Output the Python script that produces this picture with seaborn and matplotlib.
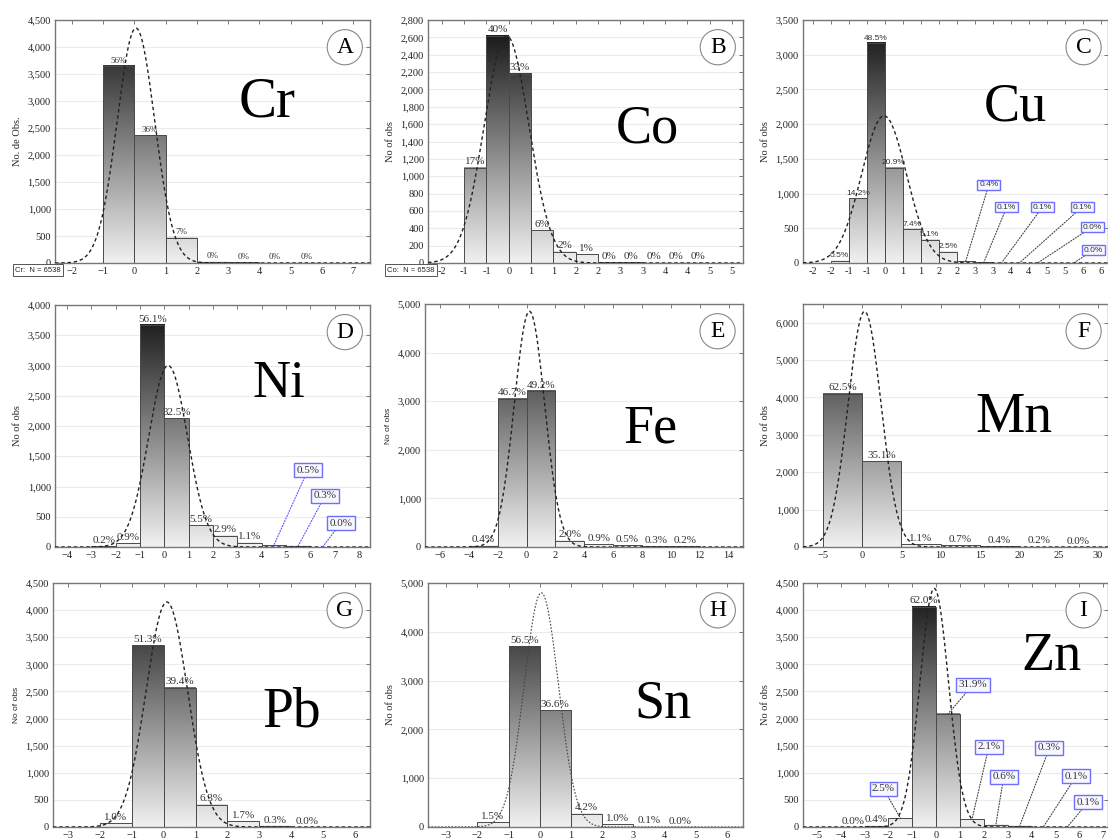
import numpy as np
import pandas as pd
import seaborn as sns
import matplotlib.pyplot as plt
from matplotlib.colors import LinearSegmentedColormap
from matplotlib.ticker import FuncFormatter, MultipleLocator

# --- datos: bordes de clase, conteos y etiquetas de cada elemento ---
cr_edges = [-1, 0, 1, 2, 3, 4, 5, 6]
cr_counts = [3650, 2370, 470, 25, 12, 6, 5]
cr_labels = ["56%", "36%", "7%", "0%", "0%", "0%", "0%"]
cr_fit = [0.05, 0.60, 4350]          # media, sigma, altura de la normal

co_edges = [-1.0, -0.5, 0.0, 0.5, 1.0, 1.5, 2.0, 2.5, 3.0, 3.5, 4.0, 4.5]
co_counts = [1100, 2620, 2180, 380, 130, 100, 8, 6, 4, 3, 2]
co_labels = ["17%", "40%", "33%", "6%", "2%", "1%", "0%", "0%", "0%", "0%", "0%"]
co_fit = [-0.05, 0.50, 2620]
co_ticks = [-1.5, -1.0, -0.5, 0.0, 0.5, 1.0, 1.5, 2.0, 2.5, 3.0, 3.5, 4.0, 4.5, 5.0]
co_ticklabels = ["-2", "-1", "-1", "0", "1", "1", "2", "2", "3", "3", "4", "4", "5", "5"]

cu_edges = [-1.5, -1.0, -0.5, 0.0, 0.5, 1.0, 1.5, 2.0, 2.5, 3.0, 3.5, 4.0, 4.5, 5.0, 5.5]
cu_counts = [33, 930, 3170, 1370, 490, 335, 165, 28, 8, 7, 6, 2, 0, 1]
cu_labels = ["0.5%", "14.2%", "48.5%", "20.9%", "7.4%", "5.1%", "2.5%",
             "0.4%", "0.1%", "0.1%", "0.1%", "0.0%", None, "0.0%"]
cu_fit = [-0.02, 0.62, 2120]
cu_ticks = [-2.0, -1.5, -1.0, -0.5, 0.0, 0.5, 1.0, 1.5, 2.0, 2.5, 3.0, 3.5, 4.0, 4.5, 5.0, 5.5, 6.0]
cu_ticklabels = ["-2", "-2", "-1", "-1", "0", "1", "1", "2", "2", "3", "3",
                 "4", "4", "5", "5", "6", "6"]

ni_edges = [-3, -2, -1, 0, 1, 2, 3, 4, 5, 6, 7]
ni_counts = [15, 60, 3670, 2130, 360, 190, 70, 33, 20, 2]
ni_labels = ["0.2%", "0.9%", "56.1%", "32.5%", "5.5%", "2.9%", "1.1%", "0.5%", "0.3%", "0.0%"]
ni_fit = [0.15, 0.80, 3000]

fe_edges = [-4, -2, 0, 2, 4, 6, 8, 10, 12]
fe_counts = [25, 3050, 3210, 130, 60, 33, 20, 13]
fe_labels = ["0.4%", "46.7%", "49.2%", "2.0%", "0.9%", "0.5%", "0.3%", "0.2%"]
fe_fit = [0.2, 1.05, 4850]

mn_edges = [-5, 0, 5, 10, 15, 20, 25, 30]
mn_counts = [4100, 2300, 70, 45, 25, 13, 2]
mn_labels = ["62.5%", "35.1%", "1.1%", "0.7%", "0.4%", "0.2%", "0.0%"]
mn_fit = [0.3, 2.1, 6300]

pb_edges = [-2, -1, 0, 1, 2, 3, 4, 5]
pb_counts = [65, 3350, 2570, 410, 110, 20, 2]
pb_labels = ["1.0%", "51.3%", "39.4%", "6.3%", "1.7%", "0.3%", "0.0%"]
pb_fit = [0.1, 0.65, 4150]

sn_edges = [-2, -1, 0, 1, 2, 3, 4, 5]
sn_counts = [100, 3700, 2390, 275, 60, 7, 1]
sn_labels = ["1.5%", "56.5%", "36.6%", "4.2%", "1.0%", "0.1%", "0.0%"]
sn_fit = [0.05, 0.55, 4800]

zn_edges = [-4, -3, -2, -1, 0, 1, 2, 3, 4, 5, 6]
zn_counts = [1, 25, 165, 4060, 2090, 140, 40, 20, 7, 5]
zn_labels = ["0.0%", "0.4%", "2.5%", "62.0%", "31.9%", "2.1%", "0.6%", "0.3%", "0.1%", "0.1%"]
zn_fit = [-0.08, 0.60, 4400]

W, H = 1108, 839
SERIF = ["Liberation Serif", "DejaVu Serif"]
SANS = ["Liberation Sans", "DejaVu Sans"]

sns.set_style("white")
plt.rcParams["font.family"] = SERIF

grad = LinearSegmentedColormap.from_list("g", ["#f0f0f0", "#0e0e0e"])

# caja en pixeles (izq, der, arriba, abajo), limites, estilo
panels = [
    dict(sym="Cr", tag="A", edges=cr_edges, counts=cr_counts, labels=cr_labels, fit=cr_fit,
         box=(55, 370, 20, 263), xlim=(-2.54, 7.54), ymax=4500, ystep=500, xstep=1,
         ylabel="No. de Obs.", sym_pos=(0.673, 0.601), sym_size=41, lab_size=6.5),
    dict(sym="Co", tag="B", edges=co_edges, counts=co_counts, labels=co_labels, fit=co_fit,
         box=(428, 743, 20, 263), xlim=(-1.81, 5.25), ymax=2800, ystep=200,
         ticks=co_ticks, ticklabels=co_ticklabels,
         ylabel="No of obs", sym_pos=(0.695, 0.494), sym_size=39, lab_size=8),
    dict(sym="Cu", tag="C", edges=cu_edges, counts=cu_counts, labels=cu_labels, fit=cu_fit,
         box=(803, 1108, 20, 263), xlim=(-2.27, 6.2), ymax=3500, ystep=500,
         ticks=cu_ticks, ticklabels=cu_ticklabels,
         ylabel="No of obs", sym_pos=(0.697, 0.588), sym_size=39, lab_size=6, lab_font=SANS,
         callout_size=6,
         callouts={7: (0.609, 0.321), 8: (0.668, 0.230), 9: (0.785, 0.230),
                   10: (0.915, 0.230), 11: (0.948, 0.148), 13: (0.952, 0.053)},
         lead="#444444"),
    dict(sym="Ni", tag="D", edges=ni_edges, counts=ni_counts, labels=ni_labels, fit=ni_fit,
         box=(55, 370, 305, 547), xlim=(-4.5, 8.45), ymax=4000, ystep=500, xstep=1,
         ylabel="No of obs", sym_pos=(0.711, 0.62), sym_size=38, lab_size=8,
         callout_size=8,
         callouts={7: (0.803, 0.318), 8: (0.857, 0.211), 9: (0.908, 0.099)},
         lead="#5555ff"),
    dict(sym="Fe", tag="E", edges=fe_edges, counts=fe_counts, labels=fe_labels, fit=fe_fit,
         box=(425, 743, 304, 547), xlim=(-7.04, 15.0), ymax=5000, ystep=1000, xstep=2,
         ylabel="No of obs", ylabel_font=SANS, sym_pos=(0.708, 0.432), sym_size=39, lab_size=8),
    dict(sym="Mn", tag="F", edges=mn_edges, counts=mn_counts, labels=mn_labels, fit=mn_fit,
         box=(803, 1108, 304, 547), xlim=(-7.54, 31.3), ymax=6500, ystep=1000, xstep=5,
         ylabel="No of obs", sym_pos=(0.69, 0.473), sym_size=40, lab_size=8),
    dict(sym="Pb", tag="G", edges=pb_edges, counts=pb_counts, labels=pb_labels, fit=pb_fit,
         box=(53, 370, 583, 827), xlim=(-3.47, 6.47), ymax=4500, ystep=500, xstep=1,
         ylabel="No of obs", ylabel_font=SANS, sym_pos=(0.754, 0.41), sym_size=40, lab_size=8),
    dict(sym="Sn", tag="H", edges=sn_edges, counts=sn_counts, labels=sn_labels, fit=sn_fit,
         box=(428, 743, 583, 827), xlim=(-3.58, 6.51), ymax=5000, ystep=1000, xstep=1,
         ylabel="No of obs", sym_pos=(0.746, 0.447), sym_size=39, lab_size=8, fine=True),
    dict(sym="Zn", tag="I", edges=zn_edges, counts=zn_counts, labels=zn_labels, fit=zn_fit,
         box=(803, 1108, 583, 827), xlim=(-5.58, 7.2), ymax=4500, ystep=500, xstep=1,
         ylabel="No of obs", sym_pos=(0.814, 0.643), sym_size=39, lab_size=8,
         callout_size=8,
         callouts={2: (0.264, 0.156), 4: (0.557, 0.582), 5: (0.609, 0.328), 6: (0.658, 0.205),
                   7: (0.808, 0.324), 8: (0.896, 0.209), 9: (0.935, 0.102)},
         lead="#444444"),
]

fig = plt.figure(figsize=(W / 100, H / 100), dpi=100)
fig.patch.set_facecolor("white")

for p in panels:
    l, r, t, b = p["box"]
    ax = fig.add_axes([l / W, 1 - b / H, (r - l) / W, (b - t) / H])
    edges = [float(e) for e in p["edges"]]
    centers = [(a + c) / 2 for a, c in zip(edges[:-1], edges[1:])]
    df = pd.DataFrame({"x": centers, "n": p["counts"]})

    sns.histplot(data=df, x="x", weights="n", bins=edges, ax=ax, stat="count",
                 color="white", edgecolor="#4a4a4a", linewidth=0.7, alpha=1, zorder=3)
    ymax = p["ymax"]
    # degradado vertical dentro de cada barra
    for bar in ax.patches:
        h = bar.get_height()
        bar.set_facecolor("none")
        if h <= 0:
            continue
        x0 = bar.get_x()
        col = np.linspace(0, h / ymax, 80).reshape(-1, 1)
        ax.imshow(col, cmap=grad, vmin=0, vmax=1, origin="lower", aspect="auto",
                  extent=[x0, x0 + bar.get_width(), 0, h], zorder=2, interpolation="bilinear")

    # curva normal ajustada
    mu, sd, peak = p["fit"]
    xs = np.linspace(p["xlim"][0], p["xlim"][1], 500)
    ys = peak * np.exp(-0.5 * ((xs - mu) / sd) ** 2)
    if p.get("fine"):
        sns.lineplot(x=xs, y=ys, ax=ax, color="#444444", lw=0.8, ls=(0, (1.5, 1.5)), zorder=4)
    else:
        sns.lineplot(x=xs, y=ys, ax=ax, color="#222222", lw=1.0, ls=(0, (2.5, 2)), zorder=4)

    # etiquetas de porcentaje
    lab_font = p.get("lab_font", SERIF)
    callouts = p.get("callouts", {})
    for i, (cx, n, txt) in enumerate(zip(centers, p["counts"], p["labels"])):
        if txt is None:
            continue
        if i in callouts:
            ax.annotate(txt, xy=(cx, n), xycoords="data", xytext=callouts[i],
                        textcoords="axes fraction", ha="center", va="center",
                        fontsize=p["callout_size"], family=lab_font, color="#333333",
                        bbox=dict(boxstyle="square,pad=0.22", fc="#f7f7ff", ec="#6f6fff", lw=1),
                        arrowprops=dict(arrowstyle="-", ls=(0, (1, 1.5)), color=p["lead"],
                                        lw=0.8, shrinkA=0, shrinkB=0),
                        annotation_clip=False, zorder=6)
        else:
            ax.annotate(txt, xy=(cx, n), xytext=(0, 1), textcoords="offset points",
                        ha="center", va="bottom", fontsize=p["lab_size"],
                        family=lab_font, color="#333333", zorder=5)

    # letra y simbolo
    ax.text(p["sym_pos"][0], p["sym_pos"][1], p["sym"], transform=ax.transAxes,
            ha="center", va="baseline", fontsize=p["sym_size"], color="black")
    ax.text(0.92, 0.888, p["tag"], transform=ax.transAxes, ha="center", va="center",
            fontsize=17, color="black",
            bbox=dict(boxstyle="circle,pad=0.3", fc="white", ec="#888888", lw=0.8))

    ax.set_xlim(*p["xlim"])
    ax.set_ylim(0, ymax)
    if "ticks" in p:
        ax.set_xticks(p["ticks"])
        ax.set_xticklabels(p["ticklabels"])
    else:
        ax.xaxis.set_major_locator(MultipleLocator(p["xstep"]))
    ax.yaxis.set_major_locator(MultipleLocator(p["ystep"]))
    ax.yaxis.set_major_formatter(FuncFormatter(lambda v, pos: f"{int(v):,}"))
    ax.tick_params(labelsize=7.5, direction="in", top=True, right=True, length=3,
                   width=0.6, color="#666666", labelcolor="#222222", pad=3)
    ax.set_axisbelow(True)
    ax.yaxis.grid(True, color="#ececec", lw=0.8)
    ax.xaxis.grid(False)
    for s in ax.spines.values():
        s.set_color("#777777")
        s.set_linewidth(1.0)
    ax.set_xlabel("")
    ax.set_ylabel(p["ylabel"], family=p.get("ylabel_font", SERIF),
                  fontsize=6 if "ylabel_font" in p else 7.5, color="#222222", labelpad=4)

# cajas con N
fig.text(38 / W, 1 - 270 / H, "Cr:  N = 6538", family=SANS, fontsize=5.5, ha="center", va="center",
         bbox=dict(boxstyle="square,pad=0.3", fc="white", ec="#555555", lw=0.7))
fig.text(411 / W, 1 - 270 / H, "Co:  N = 6538", family=SANS, fontsize=5.5, ha="center", va="center",
         bbox=dict(boxstyle="square,pad=0.3", fc="white", ec="#555555", lw=0.7))

fig.savefig("out.png", dpi=100, facecolor="white")
